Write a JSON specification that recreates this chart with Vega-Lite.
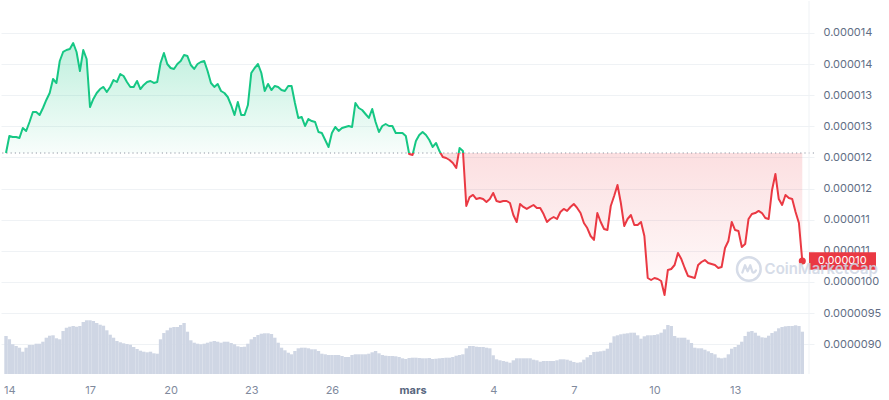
{
"$schema": "https://vega.github.io/schema/vega-lite/v6.json",
"width": 813, "height": 373, "padding": 0, "background": "white",
"config": {"view": {"stroke": null}, "font": "Inter"},
"data": {"name": "d"},
"datasets": {"d": [
{"t":"2025-02-13T21:00Z","p":1.2072e-5,"v":38},
{"t":"2025-02-14T00:00Z","p":1.2345e-5,"v":34.7},
{"t":"2025-02-14T03:00Z","p":1.2329e-5,"v":29.7},
{"t":"2025-02-14T06:00Z","p":1.2329e-5,"v":28},
{"t":"2025-02-14T09:00Z","p":1.2313e-5,"v":26.3},
{"t":"2025-02-14T12:00Z","p":1.2474e-5,"v":22.3},
{"t":"2025-02-14T15:00Z","p":1.2426e-5,"v":26.3},
{"t":"2025-02-14T18:00Z","p":1.257e-5,"v":29},
{"t":"2025-02-14T21:00Z","p":1.2731e-5,"v":29},
{"t":"2025-02-15T00:00Z","p":1.2731e-5,"v":30.3},
{"t":"2025-02-15T03:00Z","p":1.2683e-5,"v":30.3},
{"t":"2025-02-15T06:00Z","p":1.2795e-5,"v":32.3},
{"t":"2025-02-15T09:00Z","p":1.2924e-5,"v":36.3},
{"t":"2025-02-15T12:00Z","p":1.3036e-5,"v":38.3},
{"t":"2025-02-15T15:00Z","p":1.3261e-5,"v":38.7},
{"t":"2025-02-15T18:00Z","p":1.3197e-5,"v":35.7},
{"t":"2025-02-15T21:00Z","p":1.355e-5,"v":34.7},
{"t":"2025-02-16T00:00Z","p":1.3695e-5,"v":43},
{"t":"2025-02-16T03:00Z","p":1.3727e-5,"v":46.3},
{"t":"2025-02-16T06:00Z","p":1.3743e-5,"v":47.3},
{"t":"2025-02-16T09:00Z","p":1.3839e-5,"v":48},
{"t":"2025-02-16T12:00Z","p":1.3695e-5,"v":47.3},
{"t":"2025-02-16T15:00Z","p":1.339e-5,"v":48},
{"t":"2025-02-16T18:00Z","p":1.3727e-5,"v":52},
{"t":"2025-02-16T21:00Z","p":1.3582e-5,"v":53.7},
{"t":"2025-02-17T00:00Z","p":1.2811e-5,"v":53.7},
{"t":"2025-02-17T03:00Z","p":1.294e-5,"v":53},
{"t":"2025-02-17T06:00Z","p":1.3036e-5,"v":51},
{"t":"2025-02-17T09:00Z","p":1.31e-5,"v":49.3},
{"t":"2025-02-17T12:00Z","p":1.3133e-5,"v":48.3},
{"t":"2025-02-17T15:00Z","p":1.3052e-5,"v":43.7},
{"t":"2025-02-17T18:00Z","p":1.3133e-5,"v":39.3},
{"t":"2025-02-17T21:00Z","p":1.3245e-5,"v":36.3},
{"t":"2025-02-18T00:00Z","p":1.3213e-5,"v":33},
{"t":"2025-02-18T03:00Z","p":1.3341e-5,"v":31.7},
{"t":"2025-02-18T06:00Z","p":1.3309e-5,"v":30.7},
{"t":"2025-02-18T09:00Z","p":1.3213e-5,"v":30},
{"t":"2025-02-18T12:00Z","p":1.3133e-5,"v":29.3},
{"t":"2025-02-18T15:00Z","p":1.3133e-5,"v":27},
{"t":"2025-02-18T18:00Z","p":1.3229e-5,"v":25},
{"t":"2025-02-18T21:00Z","p":1.31e-5,"v":23.3},
{"t":"2025-02-19T00:00Z","p":1.3165e-5,"v":22.3},
{"t":"2025-02-19T03:00Z","p":1.3213e-5,"v":21.7},
{"t":"2025-02-19T06:00Z","p":1.3229e-5,"v":22.3},
{"t":"2025-02-19T09:00Z","p":1.3197e-5,"v":20.7},
{"t":"2025-02-19T12:00Z","p":1.3213e-5,"v":20.3},
{"t":"2025-02-19T15:00Z","p":1.3518e-5,"v":34.7},
{"t":"2025-02-19T18:00Z","p":1.3679e-5,"v":41},
{"t":"2025-02-19T21:00Z","p":1.3502e-5,"v":43.7},
{"t":"2025-02-20T00:00Z","p":1.3438e-5,"v":46.3},
{"t":"2025-02-20T03:00Z","p":1.3422e-5,"v":47},
{"t":"2025-02-20T06:00Z","p":1.3502e-5,"v":47},
{"t":"2025-02-20T09:00Z","p":1.355e-5,"v":49},
{"t":"2025-02-20T12:00Z","p":1.3647e-5,"v":51},
{"t":"2025-02-20T15:00Z","p":1.363e-5,"v":42.3},
{"t":"2025-02-20T18:00Z","p":1.3486e-5,"v":33.7},
{"t":"2025-02-20T21:00Z","p":1.3422e-5,"v":31.3},
{"t":"2025-02-21T00:00Z","p":1.3502e-5,"v":30.3},
{"t":"2025-02-21T03:00Z","p":1.3534e-5,"v":29.7},
{"t":"2025-02-21T06:00Z","p":1.355e-5,"v":30.3},
{"t":"2025-02-21T09:00Z","p":1.339e-5,"v":31.3},
{"t":"2025-02-21T12:00Z","p":1.3197e-5,"v":32.3},
{"t":"2025-02-21T15:00Z","p":1.3133e-5,"v":33},
{"t":"2025-02-21T18:00Z","p":1.3181e-5,"v":32.3},
{"t":"2025-02-21T21:00Z","p":1.3068e-5,"v":31.3},
{"t":"2025-02-22T00:00Z","p":1.3036e-5,"v":32.3},
{"t":"2025-02-22T03:00Z","p":1.2972e-5,"v":32.3},
{"t":"2025-02-22T06:00Z","p":1.2843e-5,"v":31},
{"t":"2025-02-22T09:00Z","p":1.2683e-5,"v":29.7},
{"t":"2025-02-22T12:00Z","p":1.2892e-5,"v":27.7},
{"t":"2025-02-22T15:00Z","p":1.2683e-5,"v":27},
{"t":"2025-02-22T18:00Z","p":1.2683e-5,"v":27.3},
{"t":"2025-02-22T21:00Z","p":1.2843e-5,"v":30.3},
{"t":"2025-02-23T00:00Z","p":1.3357e-5,"v":34.7},
{"t":"2025-02-23T03:00Z","p":1.3438e-5,"v":37},
{"t":"2025-02-23T06:00Z","p":1.3502e-5,"v":39},
{"t":"2025-02-23T09:00Z","p":1.3357e-5,"v":40.3},
{"t":"2025-02-23T12:00Z","p":1.3068e-5,"v":40.7},
{"t":"2025-02-23T15:00Z","p":1.3181e-5,"v":40.7},
{"t":"2025-02-23T18:00Z","p":1.3084e-5,"v":40},
{"t":"2025-02-23T21:00Z","p":1.3149e-5,"v":36.3},
{"t":"2025-02-24T00:00Z","p":1.3133e-5,"v":31.3},
{"t":"2025-02-24T03:00Z","p":1.3084e-5,"v":26.3},
{"t":"2025-02-24T06:00Z","p":1.3068e-5,"v":23.7},
{"t":"2025-02-24T09:00Z","p":1.3149e-5,"v":21.3},
{"t":"2025-02-24T12:00Z","p":1.3149e-5,"v":19.7},
{"t":"2025-02-24T15:00Z","p":1.2876e-5,"v":23},
{"t":"2025-02-24T18:00Z","p":1.2635e-5,"v":25.7},
{"t":"2025-02-24T21:00Z","p":1.2651e-5,"v":26.3},
{"t":"2025-02-25T00:00Z","p":1.2506e-5,"v":26.3},
{"t":"2025-02-25T03:00Z","p":1.2618e-5,"v":25.7},
{"t":"2025-02-25T06:00Z","p":1.2586e-5,"v":24.7},
{"t":"2025-02-25T09:00Z","p":1.257e-5,"v":24.7},
{"t":"2025-02-25T12:00Z","p":1.241e-5,"v":23},
{"t":"2025-02-25T15:00Z","p":1.2394e-5,"v":20.3},
{"t":"2025-02-25T18:00Z","p":1.2281e-5,"v":19.7},
{"t":"2025-02-25T21:00Z","p":1.2169e-5,"v":19},
{"t":"2025-02-26T00:00Z","p":1.2394e-5,"v":19},
{"t":"2025-02-26T03:00Z","p":1.249e-5,"v":19},
{"t":"2025-02-26T06:00Z","p":1.2426e-5,"v":19},
{"t":"2025-02-26T09:00Z","p":1.2474e-5,"v":18},
{"t":"2025-02-26T12:00Z","p":1.249e-5,"v":17},
{"t":"2025-02-26T15:00Z","p":1.2506e-5,"v":17},
{"t":"2025-02-26T18:00Z","p":1.249e-5,"v":19},
{"t":"2025-02-26T21:00Z","p":1.2876e-5,"v":19.7},
{"t":"2025-02-27T00:00Z","p":1.2795e-5,"v":19.7},
{"t":"2025-02-27T03:00Z","p":1.2763e-5,"v":19.7},
{"t":"2025-02-27T06:00Z","p":1.2699e-5,"v":19.7},
{"t":"2025-02-27T09:00Z","p":1.2635e-5,"v":20.3},
{"t":"2025-02-27T12:00Z","p":1.2779e-5,"v":21.7},
{"t":"2025-02-27T15:00Z","p":1.257e-5,"v":23},
{"t":"2025-02-27T18:00Z","p":1.241e-5,"v":20.7},
{"t":"2025-02-27T21:00Z","p":1.2506e-5,"v":19},
{"t":"2025-02-28T00:00Z","p":1.2538e-5,"v":18.3},
{"t":"2025-02-28T03:00Z","p":1.2506e-5,"v":18},
{"t":"2025-02-28T06:00Z","p":1.2506e-5,"v":18},
{"t":"2025-02-28T09:00Z","p":1.2394e-5,"v":17.7},
{"t":"2025-02-28T12:00Z","p":1.2394e-5,"v":17},
{"t":"2025-02-28T15:00Z","p":1.2394e-5,"v":15.7},
{"t":"2025-02-28T18:00Z","p":1.2345e-5,"v":15},
{"t":"2025-02-28T21:00Z","p":1.2056e-5,"v":16},
{"t":"2025-03-01T00:00Z","p":1.204e-5,"v":16.3},
{"t":"2025-03-01T03:00Z","p":1.2265e-5,"v":16.3},
{"t":"2025-03-01T06:00Z","p":1.2361e-5,"v":16},
{"t":"2025-03-01T09:00Z","p":1.241e-5,"v":15.7},
{"t":"2025-03-01T12:00Z","p":1.2361e-5,"v":15.7},
{"t":"2025-03-01T15:00Z","p":1.2281e-5,"v":16},
{"t":"2025-03-01T18:00Z","p":1.2169e-5,"v":15},
{"t":"2025-03-01T21:00Z","p":1.2233e-5,"v":15.3},
{"t":"2025-03-02T00:00Z","p":1.2104e-5,"v":15.7},
{"t":"2025-03-02T03:00Z","p":1.2008e-5,"v":16},
{"t":"2025-03-02T06:00Z","p":1.1992e-5,"v":16.3},
{"t":"2025-03-02T09:00Z","p":1.196e-5,"v":16.3},
{"t":"2025-03-02T12:00Z","p":1.1912e-5,"v":17},
{"t":"2025-03-02T15:00Z","p":1.1831e-5,"v":18.3},
{"t":"2025-03-02T18:00Z","p":1.2153e-5,"v":19},
{"t":"2025-03-02T21:00Z","p":1.2104e-5,"v":19.7},
{"t":"2025-03-03T00:00Z","p":1.1221e-5,"v":25.7},
{"t":"2025-03-03T03:00Z","p":1.1365e-5,"v":28},
{"t":"2025-03-03T06:00Z","p":1.1398e-5,"v":28},
{"t":"2025-03-03T09:00Z","p":1.1333e-5,"v":27.3},
{"t":"2025-03-03T12:00Z","p":1.1349e-5,"v":27},
{"t":"2025-03-03T15:00Z","p":1.1333e-5,"v":27},
{"t":"2025-03-03T18:00Z","p":1.1285e-5,"v":26.3},
{"t":"2025-03-03T21:00Z","p":1.1333e-5,"v":25.7},
{"t":"2025-03-04T00:00Z","p":1.143e-5,"v":18.7},
{"t":"2025-03-04T03:00Z","p":1.1301e-5,"v":14.7},
{"t":"2025-03-04T06:00Z","p":1.1285e-5,"v":13.7},
{"t":"2025-03-04T09:00Z","p":1.1301e-5,"v":13},
{"t":"2025-03-04T12:00Z","p":1.1301e-5,"v":12.3},
{"t":"2025-03-04T15:00Z","p":1.1269e-5,"v":11.3},
{"t":"2025-03-04T18:00Z","p":1.1076e-5,"v":13.7},
{"t":"2025-03-04T21:00Z","p":1.0964e-5,"v":15.7},
{"t":"2025-03-05T00:00Z","p":1.1253e-5,"v":15.7},
{"t":"2025-03-05T03:00Z","p":1.1205e-5,"v":15.7},
{"t":"2025-03-05T06:00Z","p":1.1173e-5,"v":15.7},
{"t":"2025-03-05T09:00Z","p":1.1205e-5,"v":15.7},
{"t":"2025-03-05T12:00Z","p":1.1237e-5,"v":14.3},
{"t":"2025-03-05T15:00Z","p":1.1189e-5,"v":13.7},
{"t":"2025-03-05T18:00Z","p":1.1189e-5,"v":12.3},
{"t":"2025-03-05T21:00Z","p":1.1092e-5,"v":13},
{"t":"2025-03-06T00:00Z","p":1.0964e-5,"v":13},
{"t":"2025-03-06T03:00Z","p":1.1012e-5,"v":13},
{"t":"2025-03-06T06:00Z","p":1.1044e-5,"v":13},
{"t":"2025-03-06T09:00Z","p":1.1012e-5,"v":13.7},
{"t":"2025-03-06T12:00Z","p":1.1125e-5,"v":14.7},
{"t":"2025-03-06T15:00Z","p":1.1173e-5,"v":14.7},
{"t":"2025-03-06T18:00Z","p":1.1141e-5,"v":14.3},
{"t":"2025-03-06T21:00Z","p":1.1205e-5,"v":13.3},
{"t":"2025-03-07T00:00Z","p":1.1253e-5,"v":12},
{"t":"2025-03-07T03:00Z","p":1.1189e-5,"v":11.3},
{"t":"2025-03-07T06:00Z","p":1.1108e-5,"v":11.7},
{"t":"2025-03-07T09:00Z","p":1.0948e-5,"v":14.3},
{"t":"2025-03-07T12:00Z","p":1.0867e-5,"v":16.7},
{"t":"2025-03-07T15:00Z","p":1.0739e-5,"v":19},
{"t":"2025-03-07T18:00Z","p":1.0675e-5,"v":22},
{"t":"2025-03-07T21:00Z","p":1.1108e-5,"v":22.3},
{"t":"2025-03-08T00:00Z","p":1.0964e-5,"v":22.7},
{"t":"2025-03-08T03:00Z","p":1.0851e-5,"v":23.3},
{"t":"2025-03-08T06:00Z","p":1.0835e-5,"v":25.3},
{"t":"2025-03-08T09:00Z","p":1.1221e-5,"v":31.3},
{"t":"2025-03-08T12:00Z","p":1.1382e-5,"v":37.7},
{"t":"2025-03-08T15:00Z","p":1.1558e-5,"v":38.7},
{"t":"2025-03-08T18:00Z","p":1.1269e-5,"v":39.7},
{"t":"2025-03-08T21:00Z","p":1.09e-5,"v":40.3},
{"t":"2025-03-09T00:00Z","p":1.1012e-5,"v":40.7},
{"t":"2025-03-09T03:00Z","p":1.1076e-5,"v":41.3},
{"t":"2025-03-09T06:00Z","p":1.0916e-5,"v":41.3},
{"t":"2025-03-09T09:00Z","p":1.0916e-5,"v":38.7},
{"t":"2025-03-09T12:00Z","p":1.0964e-5,"v":35.3},
{"t":"2025-03-09T15:00Z","p":1.0739e-5,"v":37.7},
{"t":"2025-03-09T18:00Z","p":1.0064e-5,"v":38.7},
{"t":"2025-03-09T21:00Z","p":1.0032e-5,"v":38.7},
{"t":"2025-03-10T00:00Z","p":1.0064e-5,"v":39},
{"t":"2025-03-10T03:00Z","p":1.0048e-5,"v":39.7},
{"t":"2025-03-10T06:00Z","p":1.0016e-5,"v":41.3},
{"t":"2025-03-10T09:00Z","p":9.791e-6,"v":44.7},
{"t":"2025-03-10T12:00Z","p":1.0193e-5,"v":49},
{"t":"2025-03-10T15:00Z","p":1.0209e-5,"v":48},
{"t":"2025-03-10T18:00Z","p":1.0273e-5,"v":38},
{"t":"2025-03-10T21:00Z","p":1.0466e-5,"v":36.3},
{"t":"2025-03-11T00:00Z","p":1.0369e-5,"v":36.3},
{"t":"2025-03-11T03:00Z","p":1.0225e-5,"v":36.3},
{"t":"2025-03-11T06:00Z","p":1.0096e-5,"v":34.3},
{"t":"2025-03-11T09:00Z","p":1.008e-5,"v":31},
{"t":"2025-03-11T12:00Z","p":1.0064e-5,"v":26.3},
{"t":"2025-03-11T15:00Z","p":1.0273e-5,"v":25.7},
{"t":"2025-03-11T18:00Z","p":1.0321e-5,"v":25.7},
{"t":"2025-03-11T21:00Z","p":1.0353e-5,"v":24.3},
{"t":"2025-03-12T00:00Z","p":1.0305e-5,"v":22.7},
{"t":"2025-03-12T03:00Z","p":1.0289e-5,"v":21},
{"t":"2025-03-12T06:00Z","p":1.0273e-5,"v":19.7},
{"t":"2025-03-12T09:00Z","p":1.0225e-5,"v":16.3},
{"t":"2025-03-12T12:00Z","p":1.0241e-5,"v":15.7},
{"t":"2025-03-12T15:00Z","p":1.0546e-5,"v":16.3},
{"t":"2025-03-12T18:00Z","p":1.0659e-5,"v":19.7},
{"t":"2025-03-12T21:00Z","p":1.0964e-5,"v":25.3},
{"t":"2025-03-13T00:00Z","p":1.0835e-5,"v":27},
{"t":"2025-03-13T03:00Z","p":1.0819e-5,"v":29},
{"t":"2025-03-13T06:00Z","p":1.0562e-5,"v":32.3},
{"t":"2025-03-13T09:00Z","p":1.061e-5,"v":38},
{"t":"2025-03-13T12:00Z","p":1.1012e-5,"v":42.3},
{"t":"2025-03-13T15:00Z","p":1.1092e-5,"v":43},
{"t":"2025-03-13T18:00Z","p":1.1108e-5,"v":41.3},
{"t":"2025-03-13T21:00Z","p":1.1141e-5,"v":38.3},
{"t":"2025-03-14T00:00Z","p":1.1108e-5,"v":36.7},
{"t":"2025-03-14T03:00Z","p":1.1028e-5,"v":36.3},
{"t":"2025-03-14T06:00Z","p":1.1012e-5,"v":38.3},
{"t":"2025-03-14T09:00Z","p":1.1478e-5,"v":41},
{"t":"2025-03-14T12:00Z","p":1.1735e-5,"v":42.7},
{"t":"2025-03-14T15:00Z","p":1.1333e-5,"v":45.7},
{"t":"2025-03-14T18:00Z","p":1.1237e-5,"v":47},
{"t":"2025-03-14T21:00Z","p":1.1398e-5,"v":47.7},
{"t":"2025-03-15T00:00Z","p":1.1349e-5,"v":48},
{"t":"2025-03-15T03:00Z","p":1.1333e-5,"v":48},
{"t":"2025-03-15T06:00Z","p":1.1125e-5,"v":48.7},
{"t":"2025-03-15T09:00Z","p":1.0948e-5,"v":48},
{"t":"2025-03-15T12:00Z","p":1.0337e-5,"v":42.3}
]},
"layer": [
{
"mark": {"type": "bar", "width": 3.4, "color": "#cfd6e4"},
"encoding": {
"x": {"field": "t", "type": "temporal",
 "scale": {"type": "utc", "domain": [{"year":2025,"month":2,"date":13,"hours":21,"utc":true},{"year":2025,"month":3,"date":15,"hours":18,"utc":true}]},
 "axis": {"title": null, "grid": false, "domain": false, "ticks": false, "labelPadding": 10, "labelFontSize": 11, "labelFont": "Inter", "tickCount": 40,
  "values": [{"year":2025,"month":2,"date":14,"utc":true},{"year":2025,"month":2,"date":17,"utc":true},{"year":2025,"month":2,"date":20,"utc":true},{"year":2025,"month":2,"date":23,"utc":true},{"year":2025,"month":2,"date":26,"utc":true},{"year":2025,"month":3,"date":1,"utc":true},{"year":2025,"month":3,"date":4,"utc":true},{"year":2025,"month":3,"date":7,"utc":true},{"year":2025,"month":3,"date":10,"utc":true},{"year":2025,"month":3,"date":13,"utc":true}],
  "labelExpr": "utcdate(datum.value) == 1 ? 'mars' : '' + utcdate(datum.value)",
  "labelColor": {"condition": {"test": "utcdate(datum.value) == 1", "value": "#58667e"}, "value": "#808a9d"},
  "labelFontWeight": {"condition": {"test": "utcdate(datum.value) == 1", "value": "bold"}, "value": "normal"}}},
"y": {"field": "v", "type": "quantitative", "scale": {"domain": [0, 373]}, "axis": null}
}
},
{
"layer": [
{
"mark": {"type": "area", "line": false, "fill": {"gradient": "linear", "x1": 0, "y1": 0, "x2": 0, "y2": 1, "stops": [
 {"offset": 0, "color": "rgba(22,199,132,0.28)"}, {"offset": 0.4365, "color": "rgba(22,199,132,0.03)"},
 {"offset": 0.4365, "color": "rgba(234,57,67,0.16)"}, {"offset": 1, "color": "rgba(234,57,67,0.02)"}]}},
"encoding": {
"x": {"field": "t", "type": "temporal"},
"y": {"field": "p", "type": "quantitative", "scale": {"domain": [0.000008522, 0.000014514], "nice": false, "zero": false},
 "axis": {"title": null, "orient": "right", "domain": false, "ticks": false, "grid": true, "gridColor": "#eff2f5", "labelPadding": 9, "labelFontSize": 11, "labelFont": "Inter", "labelColor": "#616e85", "labelOverlap": false, "tickCount": 40,
 "values": [0.000009, 0.0000095, 0.00001, 0.0000105, 0.000011, 0.0000115, 0.000012, 0.0000125, 0.000013, 0.0000135, 0.000014],
 "labelExpr": "datum.value < 0.0000101 ? format(datum.value, '.7f') : format(datum.value + 1e-12, '.6f')"}},
"y2": {"datum": 1.2072e-5}
}
},
{
"data": {"values": [{}]},
"mark": {"type": "rule", "color": "#8f96a3", "strokeWidth": 1, "strokeDash": [1.2, 3]},
"encoding": {"y": {"datum": 1.2072e-5}}
},
{
"data": {"values": [{}]},
"mark": {"type": "rule", "color": "#eff2f5", "strokeWidth": 1},
"encoding": {"x": {"datum": {"year":2025,"month":3,"date":15,"hours":18,"utc":true}}}
},
{
"mark": {"type": "line", "strokeWidth": 2, "strokeJoin": "round", "stroke": {"gradient": "linear", "x1": 0, "y1": 0, "x2": 0, "y2": 1, "stops": [
 {"offset": 0, "color": "#16c784"}, {"offset": 0.4365, "color": "#16c784"}, {"offset": 0.4365, "color": "#ea3943"}, {"offset": 1, "color": "#ea3943"}]}},
"encoding": {
"x": {"field": "t", "type": "temporal"},
"y": {"field": "p", "type": "quantitative"}
}
},
{
"data": {"values": [{"t": "2025-03-15T12:00Z", "p": 1.0337e-5, "lab": "0.000010"}]},
"layer": [
{"mark": {"type": "point", "filled": true, "size": 50, "color": "#ea3943", "opacity": 1},
 "encoding": {"x": {"field": "t", "type": "temporal"}, "y": {"field": "p", "type": "quantitative"}}},
{"mark": {"type": "point", "filled": true, "size": 17956, "color": "#ea3943", "opacity": 1, "strokeWidth": 0, "shape": "M0,-0.13 L1,-0.13 L1,0.13 L0,0.13 Z"},
 "encoding": {"x": {"datum": {"year":2025,"month":3,"date":15,"hours":18,"utc":true}}, "y": {"field": "p", "type": "quantitative"}}},
{"mark": {"type": "text", "align": "left", "baseline": "middle", "dx": 9, "fontSize": 11, "font": "Inter", "color": "white"},
 "encoding": {"x": {"datum": {"year":2025,"month":3,"date":15,"hours":18,"utc":true}}, "y": {"field": "p", "type": "quantitative"}, "text": {"field": "lab"}}}
]
},
{
"data": {"values": [{}]},
"mark": {"type": "point", "filled": false, "size": 560, "strokeWidth": 2.5, "color": "#cfd6e4", "opacity": 0.85},
"encoding": {"x": {"datum": {"year":2025,"month":3,"date":13,"hours":12,"minutes":17,"utc":true}}, "y": {"datum": 1.0209e-5}}
},
{
"data": {"values": [{}]},
"mark": {"type": "point", "filled": false, "size": 560, "strokeWidth": 2.2, "color": "#cfd6e4", "opacity": 0.85, "strokeJoin": "round", "strokeCap": "round",
 "shape": "M-0.55,0.3 L-0.32,-0.32 L-0.1,0.2 L0.12,-0.32 L0.3,0.25 Q0.42,0.42 0.6,0.12"},
"encoding": {"x": {"datum": {"year":2025,"month":3,"date":13,"hours":12,"minutes":17,"utc":true}}, "y": {"datum": 1.0209e-5}}
},
{
"data": {"values": [{}]},
"mark": {"type": "text", "text": "CoinMarketCap", "align": "left", "baseline": "middle", "fontSize": 15, "fontWeight": 600, "font": "Inter", "color": "#cfd6e4", "opacity": 0.85},
"encoding": {"x": {"datum": {"year":2025,"month":3,"date":14,"hours":2,"minutes":20,"utc":true}}, "y": {"datum": 1.0209e-5}}
}
]
}
],
"resolve": {"scale": {"y": "independent"}}
}
